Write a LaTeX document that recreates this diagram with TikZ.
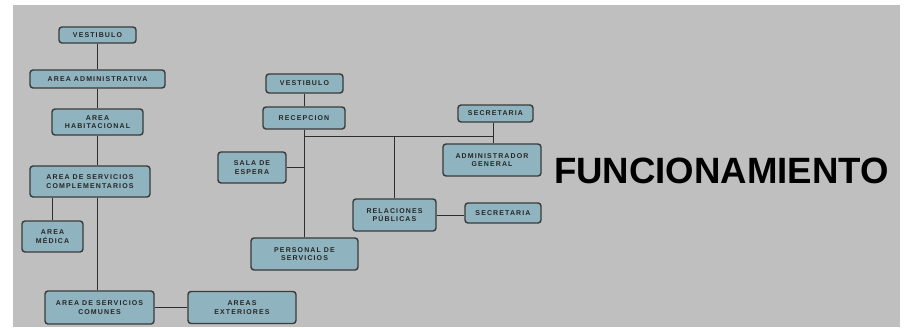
\documentclass[tikz,border=0pt]{standalone}
\usepackage{fontspec}
\setmainfont{Liberation Sans}
\newfontfamily\boxfont[LetterSpace=16]{Liberation Sans}
\definecolor{panel}{HTML}{BFBFBF}
\definecolor{boxfill}{HTML}{8FB4BF}
\definecolor{boxline}{HTML}{3A3A3A}
\definecolor{wire}{HTML}{2E2E2E}
\tikzset{
  box/.style={draw=boxline, line width=1.4pt, fill=boxfill, rounded corners=3pt,
    inner sep=0pt, align=center, text=black!85, font=\boxfont\bfseries\fontsize{7}{8.5}\selectfont},
  wireline/.style={draw=wire, line width=1pt}
}
\begin{document}
\begin{tikzpicture}[x=1pt,y=-1pt]
\useasboundingbox (0,0) rectangle (904,327);
\fill[white] (0,0) rectangle (904,327);
\fill[panel] (13,5) rectangle (900,327);
% left column
\node[box, minimum width=77pt, minimum height=16pt] (lv) at (97.5,35) {VESTIBULO};
\node[box, minimum width=135pt, minimum height=18pt] (lad) at (97.5,79) {AREA ADMINISTRATIVA};
\node[box, minimum width=91pt, minimum height=26pt] (lhab) at (97.5,122) {AREA\\HABITACIONAL};
\node[box, minimum width=120pt, minimum height=31pt] (lcomp) at (90,181.5) {AREA DE SERVICIOS\\COMPLEMENTARIOS};
\node[box, minimum width=61pt, minimum height=31pt] (lmed) at (52.5,236.5) {AREA\\MÉDICA};
\node[box, minimum width=109pt, minimum height=33pt] (lcom) at (99.5,307.5) {AREA DE SERVICIOS\\COMUNES};
\node[box, minimum width=108pt, minimum height=32pt] (lext) at (242,307.5) {AREAS\\EXTERIORES};
% right part
\node[box, minimum width=77pt, minimum height=19pt] (rv) at (304.5,83.5) {VESTIBULO};
\node[box, minimum width=82pt, minimum height=22pt] (rrec) at (304,118) {RECEPCION};
\node[box, minimum width=75pt, minimum height=17pt] (rsec) at (495.5,113.5) {SECRETARIA};
\node[box, minimum width=98pt, minimum height=32pt] (radm) at (492,160) {ADMINISTRADOR\\GENERAL};
\node[box, minimum width=68pt, minimum height=31pt] (rsala) at (252,167.5) {SALA DE\\ESPERA};
\node[box, minimum width=83pt, minimum height=32pt] (rrel) at (394.5,215) {RELACIONES\\PÚBLICAS};
\node[box, minimum width=76pt, minimum height=20pt] (rsec2) at (503,213) {SECRETARIA};
\node[box, minimum width=107pt, minimum height=32pt] (rpers) at (304.5,254) {PERSONAL DE\\SERVICIOS};
\coordinate (jr) at (493,136);
% title
\node[font=\bfseries\fontsize{36.6}{40}\selectfont, anchor=base, inner sep=0pt] (title) at (721.5,183) {FUNCIONAMIENTO};
% connectors left
\draw[wireline] (lv.south) -- (lad.north);
\draw[wireline] (lad.south) -- (lhab.north);
\draw[wireline] (lhab.south) -- (lhab.south |- lcomp.north);
\draw[wireline] (lhab.south |- lcomp.south) -- (lhab.south |- lcom.north);
\draw[wireline] (lmed.north) -- (lmed.north |- lcomp.south);
\draw[wireline] (lcom.east) -- (lcom.east -| lext.west);
% connectors right
\draw[wireline] (rv.south) -- (rrec.north -| rv.south);
\draw[wireline] (rrec.south) -- (rrec.south |- rpers.north);
\draw[wireline] (rrec.south |- jr) -- (jr);
\draw[wireline] (jr |- rsec.south) -- (jr |- radm.north);
\draw[wireline] (rrel.north) -- (rrel.north |- jr);
\draw[wireline] (rsala.east) -- (rsala.east -| rrec.south);
\draw[wireline] (rrel.east) -- (rrel.east -| rsec2.west);
\end{tikzpicture}
\end{document}
